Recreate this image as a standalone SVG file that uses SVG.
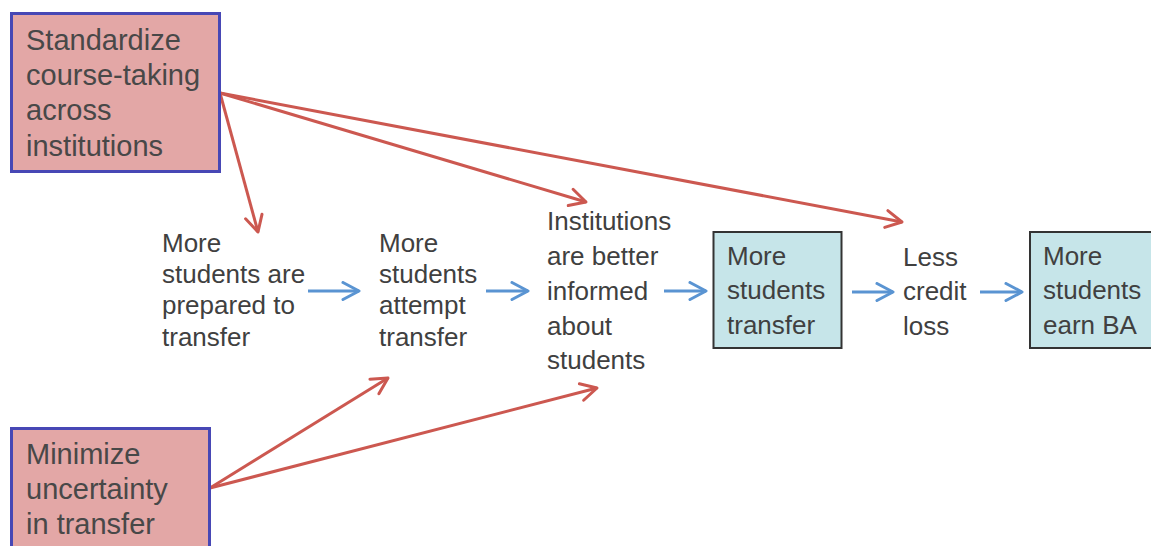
<svg xmlns="http://www.w3.org/2000/svg" width="1151" height="546" viewBox="0 0 1151 546">
<style>
  .t { font-family: "Liberation Sans", Arial, sans-serif; font-size: 26px; fill: #404040; }
  .tb { font-family: "Liberation Sans", Arial, sans-serif; font-size: 29px; fill: #484848; }
  .red { fill: #e3a7a6; stroke: #4747b5; stroke-width: 3; }
  .teal { fill: #c6e5e9; stroke: #333333; stroke-width: 2; }
  .rl { stroke: #cc5850; stroke-width: 3; fill: none; marker-end: url(#ar); }
  .bl { stroke: #5a94d2; stroke-width: 3; fill: none; marker-end: url(#ab); }
</style>
<defs>
  <marker id="ar" markerUnits="userSpaceOnUse" viewBox="-2 -2 21 21" refX="16" refY="8.5" markerWidth="21" markerHeight="21" orient="auto">
    <path d="M0,0 L16,8.5 L0,17" fill="none" stroke="#cc5850" stroke-width="3" stroke-linejoin="round" stroke-linecap="round"/>
  </marker>
  <marker id="ab" markerUnits="userSpaceOnUse" viewBox="-2 -2 21 21" refX="16" refY="8.5" markerWidth="21" markerHeight="21" orient="auto">
    <path d="M0,0 L16,8.5 L0,17" fill="none" stroke="#5a94d2" stroke-width="3" stroke-linejoin="round" stroke-linecap="round"/>
  </marker>
</defs>
<rect width="1151" height="546" fill="#ffffff"/>

<g id="connectors">
  <line class="rl" x1="220" y1="93" x2="258" y2="232"/>
  <line class="rl" x1="220" y1="93" x2="586" y2="202"/>
  <line class="rl" x1="220" y1="93" x2="902" y2="222"/>
  <line class="rl" x1="210" y1="488" x2="388" y2="378"/>
  <line class="rl" x1="210" y1="488" x2="597" y2="388"/>
  <line class="bl" x1="308" y1="291" x2="359" y2="291"/>
  <line class="bl" x1="486" y1="291" x2="528" y2="291"/>
  <line class="bl" x1="664" y1="291" x2="706" y2="291"/>
  <line class="bl" x1="852" y1="292" x2="893" y2="292"/>
  <line class="bl" x1="980" y1="292" x2="1022" y2="292"/>
</g>

<g id="standardize">
  <rect class="red" x="11.5" y="13.5" width="208" height="158"/>
  <text class="tb" x="26" y="50">Standardize</text>
  <text class="tb" x="26" y="85">course-taking</text>
  <text class="tb" x="26" y="120">across</text>
  <text class="tb" x="26" y="156">institutions</text>
</g>

<g id="minimize">
  <rect class="red" x="11.5" y="428.5" width="198" height="130"/>
  <text class="tb" x="26" y="464">Minimize</text>
  <text class="tb" x="26" y="499">uncertainty</text>
  <text class="tb" x="26" y="534">in transfer</text>
</g>

<g id="prepared">
  <text class="t" x="162" y="252">More</text>
  <text class="t" x="162" y="283">students are</text>
  <text class="t" x="162" y="314">prepared to</text>
  <text class="t" x="162" y="346">transfer</text>
</g>

<g id="attempt">
  <text class="t" x="379" y="252">More</text>
  <text class="t" x="379" y="283">students</text>
  <text class="t" x="379" y="314">attempt</text>
  <text class="t" x="379" y="346">transfer</text>
</g>

<g id="informed">
  <text class="t" x="547" y="230">Institutions</text>
  <text class="t" x="547" y="265">are better</text>
  <text class="t" x="547" y="300">informed</text>
  <text class="t" x="547" y="335">about</text>
  <text class="t" x="547" y="369">students</text>
</g>

<g id="transfer">
  <rect class="teal" x="713.5" y="232" width="128" height="116"/>
  <text class="t" x="727" y="265">More</text>
  <text class="t" x="727" y="299">students</text>
  <text class="t" x="727" y="334">transfer</text>
</g>

<g id="creditloss">
  <text class="t" x="903" y="266">Less</text>
  <text class="t" x="903" y="300">credit</text>
  <text class="t" x="903" y="335">loss</text>
</g>

<g id="earnba">
  <rect class="teal" x="1030" y="232" width="140" height="116"/>
  <text class="t" x="1043" y="265">More</text>
  <text class="t" x="1043" y="299">students</text>
  <text class="t" x="1043" y="334">earn BA</text>
</g>
</svg>
